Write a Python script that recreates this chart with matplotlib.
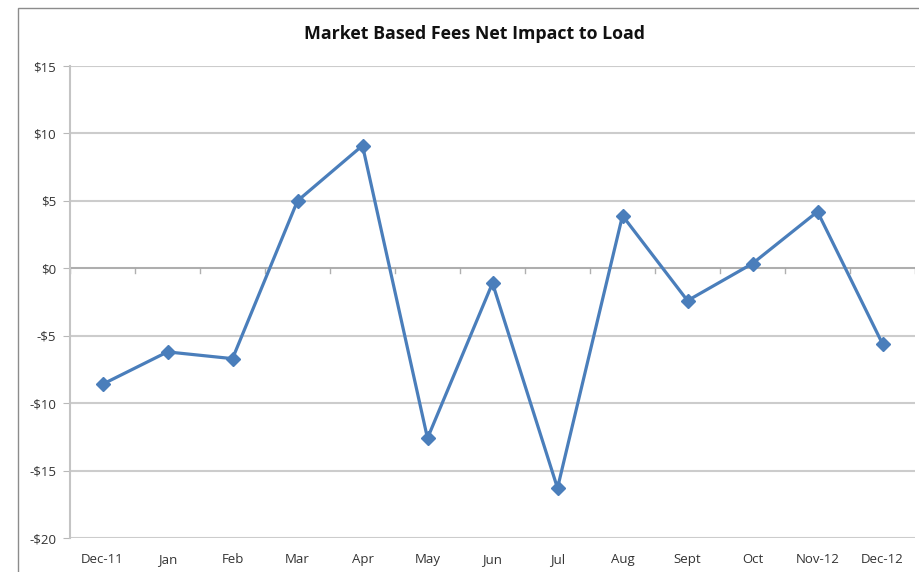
import matplotlib
matplotlib.use("Agg")
import matplotlib.pyplot as plt
from matplotlib.patches import Rectangle

plt.rcParams.update({"font.family": ["Open Sans", "DejaVu Sans"]})

months = ["Dec-11", "Jan", "Feb", "Mar", "Apr", "May", "Jun", "Jul",
          "Aug", "Sept", "Oct", "Nov-12", "Dec-12"]
impact = [-8.6, -6.2, -6.7, 5.0, 9.1, -12.6, -1.1, -16.3, 3.9, -2.4, 0.35, 4.2, -5.6]
yticks = [15, 10, 5, 0, -5, -10, -15, -20]

W, H = 920, 572
fig = plt.figure(figsize=(W / 100, H / 100), dpi=100)
# outer chart frame (cut off at right and bottom in the original)
fig.patches.append(Rectangle((18 / W, -0.05), 1.0, 1 - 8 / H + 0.05, transform=fig.transFigure,
                             fill=False, ec="#8c8c8c", lw=1.0))

ax = fig.add_axes([70 / W, (H - 538) / H, (915 - 70) / W, (538 - 66) / H])
x = range(len(months))
ax.plot(x, impact, color="#4a7ebb", lw=2.3, marker="D", ms=7, mec="#4a7ebb", mfc="#4a7ebb", zorder=3)

ax.set_xlim(-0.5, len(months) - 0.5)
ax.set_ylim(-20, 15)
ax.set_yticks(yticks)
ax.set_yticklabels([f"${v}" if v >= 0 else f"-${-v}" for v in yticks], fontsize=9.5, color="#333333")
ax.yaxis.grid(True, color="#cccccc", lw=1.5)
ax.set_axisbelow(True)
ax.tick_params(axis="y", length=5, color="#b8b8b8", pad=5)

# category labels along bottom
ax.set_xticks(list(x))
ax.set_xticklabels(months, fontsize=9.5, color="#333333")
ax.tick_params(axis="x", length=0, pad=11)
# category boundary ticks on the zero line
for b in [i + 0.5 for i in range(-1, len(months))]:
    ax.plot([b, b], [0, -0.35], color="#b0b0b0", lw=1.0, zorder=2)
ax.axhline(0, color="#a8a8a8", lw=1.2, zorder=2)

for s in ["top", "right", "bottom"]:
    ax.spines[s].set_visible(False)
ax.spines["left"].set_color("#c4c4c4")
ax.spines["left"].set_linewidth(1.5)

fig.text(475 / W, 1 - 34 / H, "Market Based Fees Net Impact to Load", ha="center", va="center",
         fontsize=12.8, fontweight="bold", color="#111111")

fig.savefig("out.png", dpi=100)
